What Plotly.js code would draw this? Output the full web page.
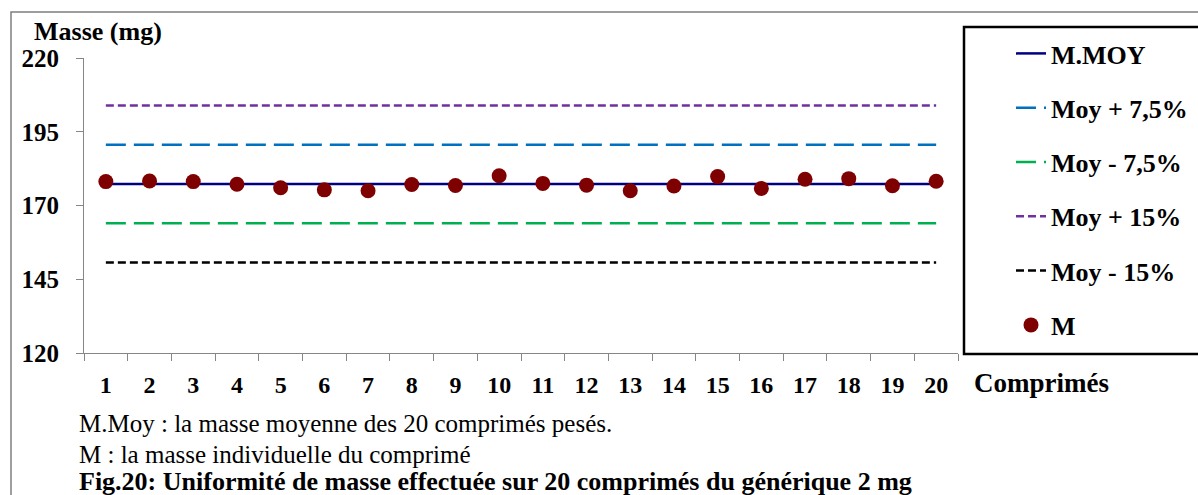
<!DOCTYPE html>
<html>
<head>
<meta charset="utf-8">
<script src="https://cdn.plot.ly/plotly-3.0.1.min.js"></script>
<style>html,body{margin:0;padding:0;background:#fff;}#chart{width:1198px;height:495px;}</style>
</head>
<body>
<div id="chart"></div>
<script>
// ---- data ----
const comprimes = ['1','2','3','4','5','6','7','8','9','10','11','12','13','14','15','16','17','18','19','20'];
const masses = [178.1, 178.3, 178.1, 177.2, 176.0, 175.3, 175.0, 177.1, 176.8, 180.1,
                177.5, 176.9, 175.0, 176.6, 179.8, 175.8, 178.9, 179.1, 176.7, 178.2];
const lineEnds = ['1', '20'];
const mMoy = [177.3, 177.3];
const moyPlus75 = [190.6, 190.6];
const moyMoins75 = [164.0, 164.0];
const moyPlus15 = [203.9, 203.9];
const moyMoins15 = [150.7, 150.7];
const yTicks = [120, 145, 170, 195, 220];
const seriesNames = ['M.MOY', 'Moy + 7,5%', 'Moy - 7,5%', 'Moy + 15%', 'Moy - 15%', 'M'];

// ---- layout helpers (pixel -> paper) ----
const W = 1198, H = 495;
const L = 84, R = 958, T = 58, B = 353;
const xp = px => (px - L) / (R - L);
const yp = py => (B - py) / (B - T);
const serif = 'Liberation Serif, Times New Roman, serif';

const traces = [
  {x: lineEnds, y: mMoy, name: seriesNames[0], legendgroup: 'g0', mode: 'lines',
   line: {color: '#000080', width: 2.5}},
  {x: lineEnds, y: moyPlus75, name: seriesNames[1], legendgroup: 'g1', mode: 'lines',
   line: {color: '#0070C0', width: 2.5, dash: '20px,8px'}},
  {x: lineEnds, y: moyMoins75, name: seriesNames[2], legendgroup: 'g2', mode: 'lines',
   line: {color: '#00B050', width: 2.5, dash: '20px,8px'}},
  {x: lineEnds, y: moyPlus15, name: seriesNames[3], legendgroup: 'g3', mode: 'lines',
   line: {color: '#7030A0', width: 2.5, dash: '8px,4px'}},
  {x: lineEnds, y: moyMoins15, name: seriesNames[4], legendgroup: 'g4', mode: 'lines',
   line: {color: '#000000', width: 2.5, dash: '8px,4px'}},
  {x: comprimes, y: masses, name: seriesNames[5], legendgroup: 'g5', mode: 'markers',
   marker: {color: '#7F0000', size: 15}}
];

const layout = {
  width: W, height: H,
  margin: {l: L, r: W - R, t: T, b: H - B, pad: 0, autoexpand: false},
  paper_bgcolor: '#ffffff', plot_bgcolor: '#ffffff',
  font: {family: serif, color: '#000000'},
  showlegend: true,
  legend: {
    x: xp(1011), xanchor: 'left', y: yp(30), yanchor: 'top',
    bgcolor: 'rgba(0,0,0,0)', borderwidth: 0,
    font: {family: serif, size: 26, color: '#000', weight: 'bold'},
    tracegroupgap: 17.5, traceorder: 'grouped', itemwidth: 30,
    maxheight: 480
  },
  xaxis: {
    type: 'category', categoryorder: 'array', categoryarray: comprimes,
    range: [-0.5, 19.5], tickson: 'boundaries',
    ticks: 'outside', ticklen: 7, tickcolor: '#868686', tickwidth: 1,
    showline: true, linecolor: '#868686', linewidth: 1,
    showgrid: false, zeroline: false, fixedrange: true, automargin: false,
    tickfont: {family: serif, size: 24, color: '#000', weight: 'bold'},
    ticklabelstandoff: 10
  },
  yaxis: {
    range: [120, 220], tickmode: 'array', tickvals: yTicks, ticktext: yTicks.map(String),
    ticks: 'outside', ticklen: 7, tickcolor: '#868686', tickwidth: 1,
    showline: true, linecolor: '#868686', linewidth: 1,
    showgrid: false, zeroline: false, fixedrange: true, automargin: false,
    tickfont: {family: serif, size: 25, color: '#000', weight: 'bold'},
    ticklabelstandoff: 12
  },
  shapes: [
    {type: 'rect', xref: 'paper', yref: 'paper', x0: xp(11), x1: xp(1300), y0: yp(560), y1: yp(12),
     line: {color: '#7f7f7f', width: 1.5}, fillcolor: 'rgba(0,0,0,0)', layer: 'below'},
    {type: 'rect', xref: 'paper', yref: 'paper', x0: xp(964), x1: xp(1300), y0: yp(354), y1: yp(27),
     line: {color: '#000000', width: 2.5}, fillcolor: 'rgba(0,0,0,0)', layer: 'above'}
  ],
  annotations: [
    {text: 'Masse (mg)', xref: 'paper', yref: 'paper', x: xp(32), y: yp(31), xanchor: 'left', yanchor: 'middle',
     showarrow: false, font: {family: serif, size: 26, weight: 'bold', color: '#000'}},
    {text: 'Comprimés', xref: 'paper', yref: 'paper', x: xp(972), y: yp(383), xanchor: 'left', yanchor: 'middle',
     showarrow: false, font: {family: serif, size: 27, weight: 'bold', color: '#000'}},
    {text: 'M.Moy : la masse moyenne des 20 comprimés pesés.', xref: 'paper', yref: 'paper', x: xp(77), y: yp(423),
     xanchor: 'left', yanchor: 'middle', showarrow: false, font: {family: serif, size: 25, color: '#000'}},
    {text: 'M : la masse individuelle du comprimé', xref: 'paper', yref: 'paper', x: xp(77), y: yp(454),
     xanchor: 'left', yanchor: 'middle', showarrow: false, font: {family: serif, size: 25, color: '#000'}},
    {text: 'Fig.20: Uniformité de masse effectuée sur 20 comprimés du générique 2 mg', xref: 'paper', yref: 'paper',
     x: xp(77), y: yp(481), xanchor: 'left', yanchor: 'middle', showarrow: false,
     font: {family: serif, size: 26, weight: 'bold', color: '#000'}}
  ]
};

Plotly.newPlot('chart', traces, layout, {displayModeBar: false, staticPlot: true});
</script>
</body>
</html>
